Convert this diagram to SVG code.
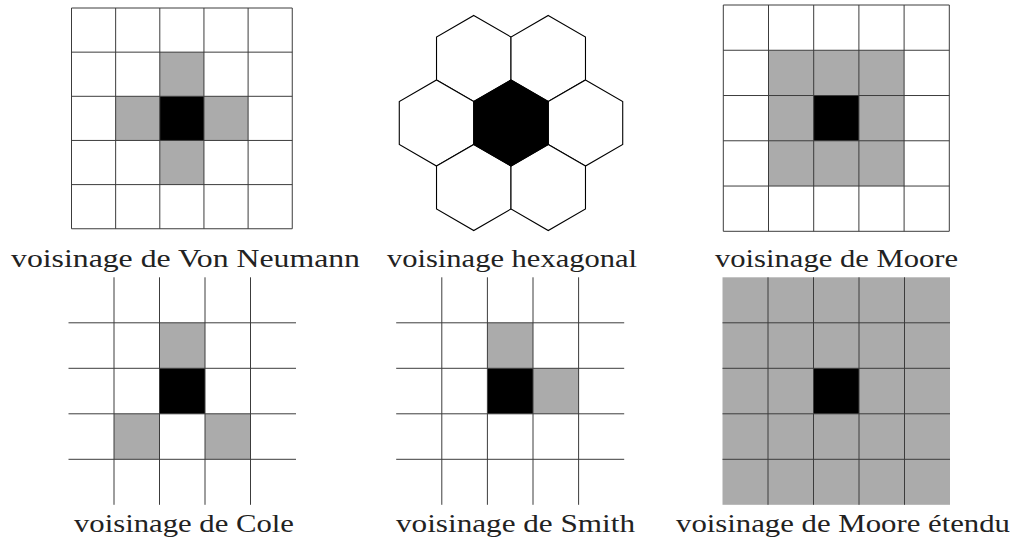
<svg xmlns="http://www.w3.org/2000/svg" xmlns:xlink="http://www.w3.org/1999/xlink" width="1015" height="552" viewBox="0 0 1015 552">
  <style>
    .bg { fill: #ffffff; }
    .cell-nb { fill: #ababab; }
    .cell-c { fill: #000000; }
    .grid { stroke: #3c3c3c; stroke-width: 1; fill: none; }
    .hex { stroke: #000000; stroke-width: 1.1; fill: #ffffff; }
    .hex-c { stroke: #000000; stroke-width: 1.1; fill: #000000; }
    .label { font-family: 'Liberation Serif', 'Times New Roman', serif; font-size: 25px; fill: #222222; }
  </style>
  <defs>
    <!-- pointy-top hexagon, circumradius 43 -->
    <polygon id="hexcell" points="0,-43 37.24,-21.5 37.24,21.5 0,43 -37.24,21.5 -37.24,-21.5"/>
  </defs>
  <rect class="bg" x="0" y="0" width="1015" height="552"/>

  <!-- Von Neumann neighbourhood: 5x5 grid, cell 44.15 -->
  <g id="von-neumann">
    <rect class="cell-nb" x="159.8" y="52.15" width="44.15" height="44.15"/>
    <rect class="cell-nb" x="115.65" y="96.3" width="44.15" height="44.15"/>
    <rect class="cell-nb" x="203.95" y="96.3" width="44.15" height="44.15"/>
    <rect class="cell-nb" x="159.8" y="140.45" width="44.15" height="44.15"/>
    <rect class="cell-c" x="159.8" y="96.3" width="44.15" height="44.15"/>
    <path class="grid" d="M71.5,8 V228.75 M115.65,8 V228.75 M159.8,8 V228.75 M203.95,8 V228.75 M248.1,8 V228.75 M292.25,8 V228.75
                         M71.5,8 H292.25 M71.5,52.15 H292.25 M71.5,96.3 H292.25 M71.5,140.45 H292.25 M71.5,184.6 H292.25 M71.5,228.75 H292.25"/>
    <text class="label" x="11" y="267" textLength="349" lengthAdjust="spacingAndGlyphs">voisinage de Von Neumann</text>
  </g>

  <!-- hexagonal neighbourhood -->
  <g id="hexagonal">
    <use xlink:href="#hexcell" class="hex" x="473.76" y="58.5"/>
    <use xlink:href="#hexcell" class="hex" x="548.24" y="58.5"/>
    <use xlink:href="#hexcell" class="hex" x="436.52" y="123"/>
    <use xlink:href="#hexcell" class="hex" x="585.48" y="123"/>
    <use xlink:href="#hexcell" class="hex" x="473.76" y="187.5"/>
    <use xlink:href="#hexcell" class="hex" x="548.24" y="187.5"/>
    <use xlink:href="#hexcell" class="hex-c" x="511" y="123"/>
    <text class="label" x="387" y="267" textLength="250" lengthAdjust="spacingAndGlyphs">voisinage hexagonal</text>
  </g>

  <!-- Moore neighbourhood: 5x5 grid, cell 45.2 -->
  <g id="moore">
    <rect class="cell-nb" x="768.5" y="50.26" width="135.6" height="135.78"/>
    <rect class="cell-c" x="813.7" y="95.52" width="45.2" height="45.26"/>
    <path class="grid" d="M723.3,5 V231.3 M768.5,5 V231.3 M813.7,5 V231.3 M858.9,5 V231.3 M904.1,5 V231.3 M949.3,5 V231.3
                         M723.3,5 H949.3 M723.3,50.26 H949.3 M723.3,95.52 H949.3 M723.3,140.78 H949.3 M723.3,186.04 H949.3 M723.3,231.3 H949.3"/>
    <text class="label" x="715" y="267" textLength="243" lengthAdjust="spacingAndGlyphs">voisinage de Moore</text>
  </g>

  <!-- Cole neighbourhood: open 5x5 grid, cell 45.5 -->
  <g id="cole">
    <rect class="cell-nb" x="159.5" y="322.8" width="45.5" height="45.5"/>
    <rect class="cell-nb" x="114" y="413.8" width="45.5" height="45.5"/>
    <rect class="cell-nb" x="205" y="413.8" width="45.5" height="45.5"/>
    <rect class="cell-c" x="159.5" y="368.3" width="45.5" height="45.5"/>
    <path class="grid" d="M114,277.3 V504.8 M159.5,277.3 V504.8 M205,277.3 V504.8 M250.5,277.3 V504.8
                         M68.5,322.8 H296 M68.5,368.3 H296 M68.5,413.8 H296 M68.5,459.3 H296"/>
    <text class="label" x="74" y="532" textLength="220" lengthAdjust="spacingAndGlyphs">voisinage de Cole</text>
  </g>

  <!-- Smith neighbourhood: open 5x5 grid, cell 45.6 -->
  <g id="smith">
    <rect class="cell-nb" x="487.4" y="322.8" width="45.6" height="45.5"/>
    <rect class="cell-nb" x="533" y="368.3" width="45.6" height="45.5"/>
    <rect class="cell-c" x="487.4" y="368.3" width="45.6" height="45.5"/>
    <path class="grid" d="M441.8,277.3 V504.8 M487.4,277.3 V504.8 M533,277.3 V504.8 M578.6,277.3 V504.8
                         M396.2,322.8 H624.2 M396.2,368.3 H624.2 M396.2,413.8 H624.2 M396.2,459.3 H624.2"/>
    <text class="label" x="396" y="532" textLength="239" lengthAdjust="spacingAndGlyphs">voisinage de Smith</text>
  </g>

  <!-- extended Moore neighbourhood: full 5x5 block, cell 45.5 -->
  <g id="moore-etendu">
    <rect class="cell-nb" x="722.5" y="277.3" width="227.5" height="227.5"/>
    <rect class="cell-c" x="813.5" y="368.3" width="45.5" height="45.5"/>
    <path class="grid" d="M768,277.3 V504.8 M813.5,277.3 V504.8 M859,277.3 V504.8 M904.5,277.3 V504.8
                         M722.5,322.8 H950 M722.5,368.3 H950 M722.5,413.8 H950 M722.5,459.3 H950"/>
    <text class="label" x="676" y="532" textLength="334" lengthAdjust="spacingAndGlyphs">voisinage de Moore étendu</text>
  </g>
</svg>
